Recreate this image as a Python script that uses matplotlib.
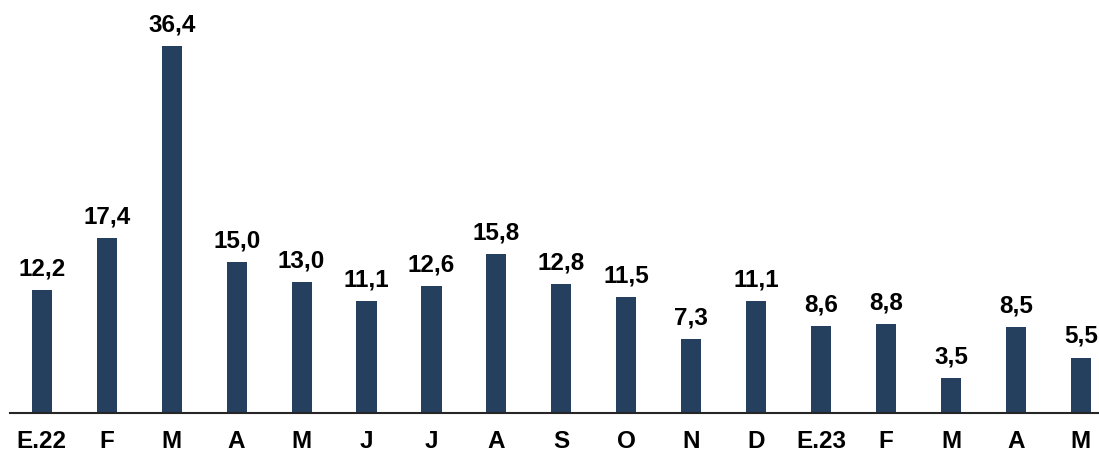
import matplotlib
matplotlib.use("Agg")
import matplotlib.pyplot as plt

categories = ["E.22", "F", "M", "A", "M", "J", "J", "A", "S", "O", "N", "D", "E.23", "F", "M", "A", "M"]
values = [12.2, 17.4, 36.4, 15.0, 13.0, 11.1, 12.6, 15.8, 12.8, 11.5, 7.3, 11.1, 8.6, 8.8, 3.5, 8.5, 5.5]

plt.rcParams['font.family'] = ['Liberation Sans', 'DejaVu Sans']

fig = plt.figure(figsize=(10.99, 4.55), dpi=100)
ax = fig.add_axes([10/1099, 42/455, 1 - 10/1099, 1 - 42/455])

x = list(range(len(values)))
ax.bar(x, values, width=0.31, color="#253F5E", zorder=2)
for xi, v in zip(x, values):
    ax.annotate(f"{v:.1f}".replace(".", ","), (xi, v), xytext=(0, 7), textcoords="offset points",
                ha="center", va="bottom", fontsize=17.5, fontweight="bold", color="#000000")

ax.set_xlim(-0.49, 16.28)
ax.set_ylim(0, 41)
ax.set_xticks(x)
ax.set_xticklabels(categories, fontsize=17.5, fontweight="bold")
ax.tick_params(axis="x", length=0, pad=12)
ax.set_yticks([])
for s in ["top", "right", "left"]:
    ax.spines[s].set_visible(False)
ax.spines["bottom"].set_color("#262626")
ax.spines["bottom"].set_linewidth(1.5)

fig.savefig("out.png", dpi=100)
